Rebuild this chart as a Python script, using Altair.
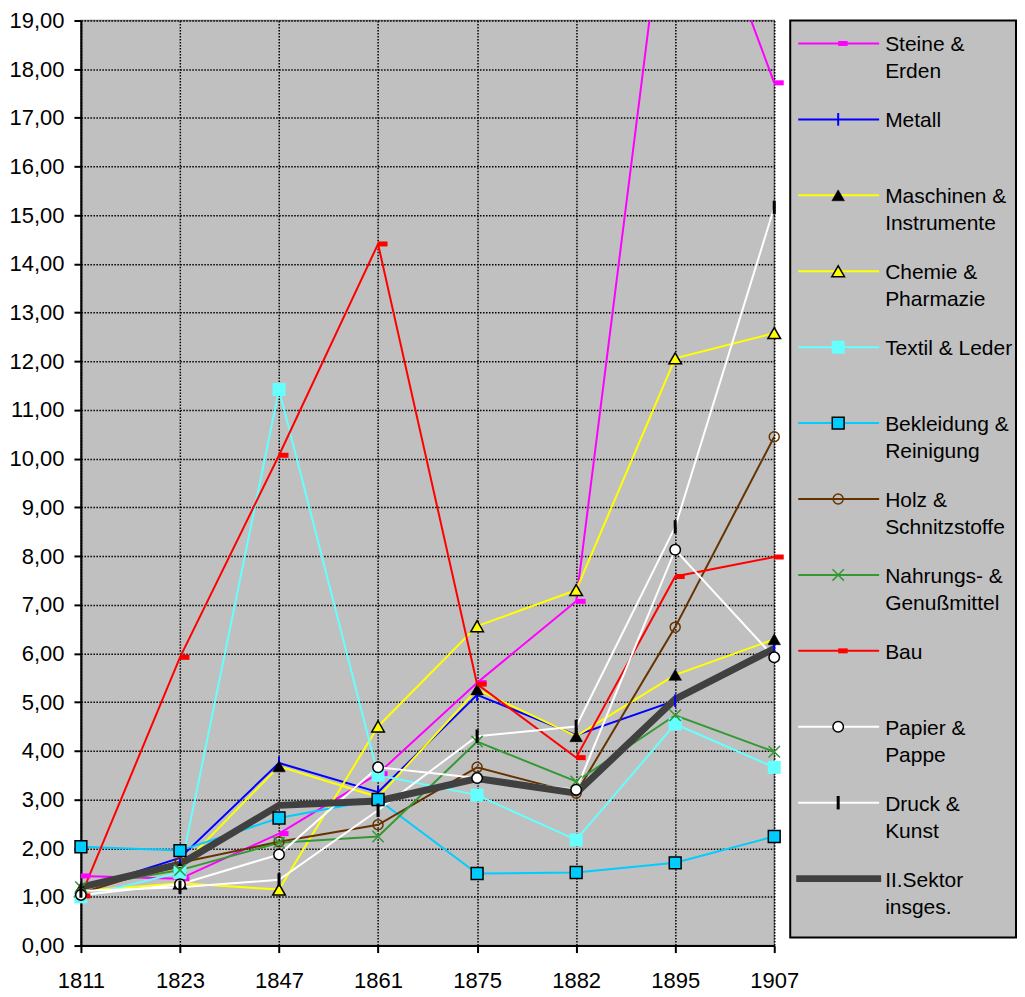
import altair as alt
import pandas as pd

years = ["1811", "1823", "1847", "1861", "1875", "1882", "1895", "1907"]

series = [
    "Steine & Erden", "Metall", "Maschinen & Instrumente", "Chemie & Pharmazie",
    "Textil & Leder", "Bekleidung & Reinigung", "Holz & Schnitzstoffe",
    "Nahrungs- & Genußmittel", "Bau", "Papier & Pappe", "Druck & Kunst",
    "II.Sektor insges.",
]
legend_labels = [
    "Steine &\nErden", "Metall", "Maschinen &\nInstrumente", "Chemie &\nPharmazie",
    "Textil & Leder", "Bekleidung &\nReinigung", "Holz &\nSchnitzstoffe",
    "Nahrungs- &\nGenußmittel", "Bau", "Papier &\nPappe", "Druck &\nKunst",
    "II.Sektor\ninsges.",
]

steine = [1.43, 1.37, 2.30, 3.53, 5.40, 7.07, 23.2, 17.72]
metall = [1.15, 1.80, 3.75, 3.15, 5.15, 4.32, 5.03, 6.15]
maschinen = [1.18, 1.60, 3.68, 3.05, 5.26, 4.30, 5.56, 6.29]
chemie = [1.12, 1.28, 1.15, 4.50, 6.56, 7.30, 12.06, 12.58]
textil = [1.00, 1.50, 11.42, 3.50, 3.09, 2.17, 4.55, 3.66]
bekleidung = [2.03, 1.95, 2.62, 3.00, 1.48, 1.50, 1.70, 2.24]
holz = [1.08, 1.70, 2.13, 2.48, 3.66, 3.13, 6.54, 10.45]
nahrung = [1.20, 1.55, 2.11, 2.24, 4.19, 3.37, 4.73, 3.98]
bau = [1.02, 5.92, 10.07, 14.41, 5.37, 3.86, 7.58, 7.98]
papier = [1.04, 1.26, 1.87, 3.66, 3.44, 3.20, 8.13, 5.92]
druck = [1.12, 1.20, 1.35, 2.78, 4.30, 4.50, 8.60, 15.16]
sektor = [1.20, 1.67, 2.88, 2.97, 3.43, 3.13, 5.06, 6.10]

values = [steine, metall, maschinen, chemie, textil, bekleidung, holz,
          nahrung, bau, papier, druck, sektor]

rows = []
for name, vals in zip(series, values):
    for yr, v in zip(years, vals):
        rows.append({"series": name, "year": yr, "value": v})
df = pd.DataFrame(rows)

RECT = "M0,-0.5L1.9,-0.5L1.9,0.5L0,0.5Z"
TICK = "M0,-1L0,1"
XMARK = "M-1,-1L1,1M-1,1L1,-1"

styles = {
    "Steine & Erden": dict(line="#FF00FF", lw=2, shape=RECT, size=100, fill="#FF00FF", stroke=None, sw=0),
    "Metall": dict(line="#0000FF", lw=2, shape=TICK, size=160, fill=None, stroke="#0000FF", sw=2),
    "Maschinen & Instrumente": dict(line="#FFFF00", lw=2, shape="triangle-up", size=160, fill="#000000", stroke="#000000", sw=0.5),
    "Chemie & Pharmazie": dict(line="#FFFF00", lw=2, shape="triangle-up", size=160, fill="#FFFF00", stroke="#000000", sw=1.5),
    "Textil & Leder": dict(line="#66FFFF", lw=2, shape="square", size=169, fill="#66FFFF", stroke=None, sw=0),
    "Bekleidung & Reinigung": dict(line="#00CCFF", lw=2, shape="square", size=140, fill="#00CCFF", stroke="#000000", sw=1.5),
    "Holz & Schnitzstoffe": dict(line="#663300", lw=2, shape="circle", size=100, fill=None, stroke="#663300", sw=1.5),
    "Nahrungs- & Genußmittel": dict(line="#339933", lw=2, shape=XMARK, size=130, fill=None, stroke="#339933", sw=1.5),
    "Bau": dict(line="#FF0000", lw=2, shape=RECT, size=100, fill="#FF0000", stroke=None, sw=0),
    "Papier & Pappe": dict(line="#FFFFFF", lw=2, shape="circle", size=110, fill="#FFFFFF", stroke="#000000", sw=1.5),
    "Druck & Kunst": dict(line="#FFFFFF", lw=2, shape=TICK, size=180, fill=None, stroke="#000000", sw=3),
    "II.Sektor insges.": dict(line="#404040", lw=7, shape=None),
}


def point_kwargs(st):
    kw = dict(shape=st["shape"], size=st["size"], opacity=1)
    if st["fill"] is not None:
        kw["filled"] = True
        kw["fill"] = st["fill"]
    else:
        kw["filled"] = False
        kw["fill"] = "transparent"
    if st["stroke"] is not None and st["sw"] > 0:
        kw["stroke"] = st["stroke"]
        kw["strokeWidth"] = st["sw"]
    else:
        kw["strokeWidth"] = 0
    return kw


label_expr = "replace(format(datum.value, '.2f'), '.', ',')"

base = alt.Chart(df).encode(
    x=alt.X("year:O", scale=alt.Scale(type="point", domain=years, padding=0),
            axis=alt.Axis(title=None, labelAngle=0, grid=True, labelPadding=18)),
    y=alt.Y("value:Q", scale=alt.Scale(domain=[0, 19], nice=False, zero=True),
            axis=alt.Axis(title=None, values=list(range(20)), labelExpr=label_expr,
                          grid=True, labelPadding=10)),
)

line_layers = []
point_layers = []
for name in series:
    st = styles[name]
    sub = base.transform_filter(alt.datum.series == name)
    line_layers.append(sub.mark_line(color=st["line"], strokeWidth=st["lw"], clip=True))
    if st["shape"] is not None:
        point_layers.append(
            sub.transform_filter(alt.datum.value <= 19).mark_point(**point_kwargs(st))
        )

plot = alt.layer(*line_layers, *point_layers).properties(
    width=694, height=926,
    view=alt.ViewBackground(fill="#C0C0C0", stroke="#808080", strokeWidth=1.5),
)

leg_df = pd.DataFrame({"series": series, "label": legend_labels})
leg_base = alt.Chart(leg_df).encode(
    y=alt.Y("series:N", scale=alt.Scale(type="point", domain=series, range=[23, 859], padding=0),
            axis=None)
)
leg_layers = []
for name in series:
    st = styles[name]
    sub = leg_base.transform_filter(alt.datum.series == name)
    if name == "II.Sektor insges.":
        leg_layers.append(sub.mark_rule(color=st["line"], strokeWidth=7).encode(
            x=alt.value(6), x2=alt.value(91)))
    else:
        leg_layers.append(sub.mark_rule(color=st["line"], strokeWidth=2).encode(
            x=alt.value(8), x2=alt.value(89)))
for name in series:
    st = styles[name]
    if st["shape"] is None:
        continue
    sub = leg_base.transform_filter(alt.datum.series == name)
    leg_layers.append(sub.mark_point(**point_kwargs(st)).encode(x=alt.value(48)))
leg_layers.append(
    leg_base.mark_text(align="left", baseline="alphabetic", dy=8, font="Liberation Sans",
                       fontSize=21, lineBreak="\n", lineHeight=27, color="black")
    .encode(x=alt.value(95), text="label:N")
)
legend = alt.layer(*leg_layers).properties(
    width=226, height=918,
    view=alt.ViewBackground(fill="#C0C0C0", stroke="#000000", strokeWidth=2),
)

chart = alt.hconcat(plot, legend, spacing=16, bounds="flush").properties(
    padding={"left": 0, "top": 0, "right": 0, "bottom": 0}
).configure(font="Liberation Sans").configure_axis(
    labelFont="Liberation Sans", labelFontSize=22, labelColor="black",
    domainColor="black", domainWidth=2, tickColor="black", tickWidth=2, tickSize=7,
    gridColor="black", gridDash=[1.5, 1.5], gridWidth=1.5, gridOpacity=1,
)

chart.save("out.html", embed_options={"renderer": "svg", "actions": False})
